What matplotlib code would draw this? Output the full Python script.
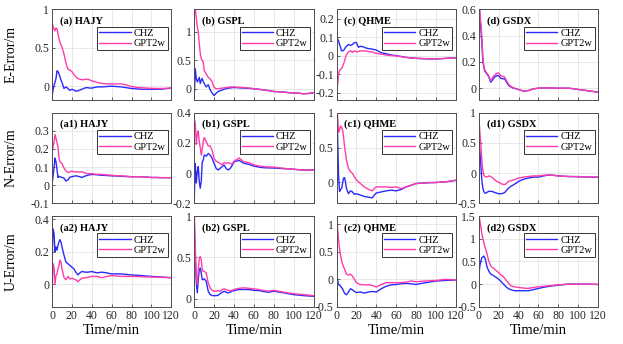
import numpy as np
import matplotlib
matplotlib.use('Agg')
import matplotlib.pyplot as plt

plt.rcParams['font.family'] = ['Liberation Serif', 'DejaVu Serif']
plt.rcParams['mathtext.fontset'] = 'stix'

# time axis (min)
t_min = [0, 1, 2, 3, 4, 5, 6, 7, 8, 9, 10, 12, 14, 16, 18, 20, 22, 24, 26, 28,
         30, 32, 34, 36, 38, 40, 45, 50, 55, 60, 65, 70, 75, 80, 85, 90, 95,
         100, 105, 110, 115, 120]

stations = ['HAJY', 'GSPL', 'QHME', 'GSDX']
components = ['E', 'N', 'U']
panel_tags = [['(a)', '(b)', '(c)', '(d)'],
              ['(a1)', '(b1)', '(c1)', '(d1)'],
              ['(a2)', '(b2)', '(c2)', '(d2)']]

# ---- E component ----
e_hajy_chz = [-0.14, -0.05, 0.01, 0.05, 0.1, 0.2, 0.19, 0.16, 0.12, 0.08, 0.05, -0.03, -0.01, -0.03,
              -0.055, -0.04, -0.05, -0.065, -0.06, -0.05, -0.04, -0.03, -0.02, -0.02, -0.025, -0.025,
              -0.01, -0.01, -0.005, 0.0, -0.005, -0.01, -0.02, -0.03, -0.035, -0.04, -0.04, -0.04,
              -0.04, -0.038, -0.032, -0.025]
e_hajy_gpt = [0.83, 0.78, 0.74, 0.72, 0.76, 0.74, 0.68, 0.62, 0.57, 0.54, 0.51, 0.42, 0.3, 0.22, 0.21,
              0.19, 0.15, 0.12, 0.1, 0.09, 0.084, 0.085, 0.09, 0.09, 0.08, 0.07, 0.05, 0.035, 0.03,
              0.03, 0.03, 0.03, 0.015, -0.005, -0.015, -0.02, -0.025, -0.028, -0.03, -0.03, -0.028,
              -0.025]
e_gspl_chz = [-0.12, 0.35, 0.18, 0.12, 0.15, 0.2, 0.09, 0.15, 0.18, 0.12, 0.09, 0.03, 0.07, -0.02,
              -0.08, -0.12, -0.08, -0.05, -0.035, -0.025, -0.01, 0.0, 0.01, 0.012, 0.018, 0.02, 0.015,
              0.01, 0.005, -0.002, -0.012, -0.022, -0.035, -0.05, -0.055, -0.06, -0.07, -0.075, -0.08,
              -0.09, -0.085, -0.072]
e_gspl_gpt = [1.5, 1.4, 1.25, 1.1, 1.0, 0.8, 0.62, 0.53, 0.5, 0.47, 0.32, 0.26, 0.2, 0.17, 0.12,
              0.02, 0.0, 0.0, 0.005, 0.01, 0.015, 0.02, 0.025, 0.03, 0.03, 0.03, 0.025, 0.02, 0.01,
              0.0, -0.01, -0.02, -0.035, -0.05, -0.055, -0.06, -0.07, -0.075, -0.08, -0.09, -0.085,
              -0.07]
e_qhme_chz = [0.1, 0.09, 0.08, 0.06, 0.045, 0.026, 0.025, 0.028, 0.035, 0.045, 0.05, 0.06, 0.055,
              0.06, 0.07, 0.07, 0.045, 0.05, 0.048, 0.045, 0.04, 0.038, 0.036, 0.035, 0.032, 0.03,
              0.015, 0.01, 0.003, 0.0, -0.005, -0.01, -0.012, -0.015, -0.016, -0.017, -0.018, -0.018,
              -0.017, -0.015, -0.013, -0.012]
e_qhme_gpt = [-0.21, -0.16, -0.1, -0.08, -0.075, -0.07, -0.06, -0.045, -0.03, -0.01, 0.005, 0.02,
              0.026, 0.017, 0.026, 0.02, 0.022, 0.026, 0.025, 0.025, 0.025, 0.022, 0.02, 0.02, 0.015,
              0.012, 0.008, 0.003, 0.0, -0.002, -0.006, -0.01, -0.013, -0.015, -0.016, -0.017,
              -0.018, -0.018, -0.017, -0.015, -0.013, -0.012]
e_gsdx_chz = [0.75, 0.53, 0.46, 0.35, 0.21, 0.16, 0.13, 0.12, 0.11, 0.1, 0.085, 0.045, 0.065, 0.085,
              0.095, 0.095, 0.075, 0.072, 0.07, 0.045, 0.02, 0.01, 0.003, -0.002, -0.006, -0.01,
              -0.023, -0.018, -0.005, 0.0, 0.002, 0.002, 0.001, 0.0, 0.0, 0.0, -0.004, -0.01, -0.014,
              -0.02, -0.025, -0.03]
e_gsdx_gpt = [0.8, 0.58, 0.5, 0.4, 0.24, 0.17, 0.14, 0.125, 0.115, 0.105, 0.09, 0.055, 0.083, 0.1,
              0.112, 0.116, 0.095, 0.09, 0.085, 0.055, 0.028, 0.015, 0.006, 0.0, -0.005, -0.01,
              -0.022, -0.018, -0.005, 0.0, 0.002, 0.002, 0.001, 0.0, 0.0, 0.0, -0.004, -0.01, -0.014,
              -0.02, -0.025, -0.03]

# ---- N component ----
n_hajy_chz = [0.0, 0.05, 0.095, 0.15, 0.13, 0.087, 0.043, 0.05, 0.047, 0.045, 0.043, 0.04, 0.023,
              0.03, 0.045, 0.047, 0.05, 0.052, 0.05, 0.047, 0.043, 0.048, 0.052, 0.055, 0.058, 0.06,
              0.058, 0.055, 0.054, 0.052, 0.051, 0.05, 0.048, 0.047, 0.047, 0.047, 0.045, 0.043,
              0.043, 0.042, 0.042, 0.042]
n_hajy_gpt = [0.18, 0.21, 0.235, 0.28, 0.26, 0.235, 0.21, 0.15, 0.13, 0.125, 0.12, 0.095, 0.08, 0.07,
              0.075, 0.078, 0.075, 0.073, 0.074, 0.072, 0.075, 0.07, 0.066, 0.064, 0.064, 0.064,
              0.06, 0.06, 0.057, 0.055, 0.053, 0.052, 0.05, 0.047, 0.047, 0.047, 0.045, 0.043, 0.043,
              0.042, 0.042, 0.042]
n_gspl_chz = [-0.17, 0.065, -0.065, 0.01, 0.043, -0.055, -0.1, -0.055, 0.075, 0.085, 0.12, 0.113,
              0.13, 0.12, 0.097, 0.065, 0.032, 0.021, 0.032, 0.043, 0.054, 0.032, 0.021, 0.03, 0.05,
              0.075, 0.085, 0.065, 0.058, 0.047, 0.04, 0.036, 0.035, 0.034, 0.032, 0.03, 0.028,
              0.026, 0.023, 0.021, 0.021, 0.021]
n_gspl_gpt = [0.36, 0.33, 0.19, 0.26, 0.28, 0.21, 0.17, 0.12, 0.16, 0.21, 0.235, 0.21, 0.18, 0.18,
              0.15, 0.095, 0.08, 0.072, 0.065, 0.055, 0.07, 0.065, 0.07, 0.065, 0.06, 0.08, 0.1,
              0.075, 0.07, 0.055, 0.048, 0.043, 0.041, 0.04, 0.036, 0.032, 0.029, 0.026, 0.023,
              0.021, 0.021, 0.021]
n_qhme_chz = [0.9, 0.7, 0.1, -0.13, -0.1, -0.087, -0.015, 0.06, 0.07, 0.01, -0.087, -0.16, -0.12,
              -0.135, -0.17, -0.16, -0.17, -0.18, -0.19, -0.2, -0.205, -0.21, -0.215, -0.22, -0.18,
              -0.15, -0.135, -0.12, -0.11, -0.12, -0.1, -0.063, -0.04, -0.015, -0.01, -0.005, -0.002,
              0.0, 0.005, 0.01, 0.02, 0.03]
n_qhme_gpt = [1.1, 0.95, 0.72, 0.75, 0.81, 0.79, 0.76, 0.66, 0.52, 0.42, 0.32, 0.2, 0.155, 0.13,
              0.08, 0.034, 0.01, -0.015, -0.04, -0.063, -0.08, -0.097, -0.11, -0.12, -0.087, -0.063,
              -0.063, -0.063, -0.07, -0.063, -0.087, -0.063, -0.04, -0.015, -0.01, -0.005, -0.002,
              0.0, 0.005, 0.01, 0.02, 0.034]
n_gsdx_chz = [0.52, 0.38, 0.14, -0.11, -0.245, -0.3, -0.33, -0.33, -0.32, -0.31, -0.3, -0.3, -0.305,
              -0.32, -0.33, -0.34, -0.34, -0.335, -0.32, -0.28, -0.245, -0.22, -0.2, -0.18, -0.16,
              -0.135, -0.1, -0.08, -0.065, -0.065, -0.045, -0.03, -0.035, -0.045, -0.05, -0.055,
              -0.057, -0.06, -0.062, -0.065, -0.065, -0.065]
n_gsdx_gpt = [0.93, 0.69, 0.48, 0.22, 0.05, -0.03, -0.055, -0.06, -0.065, -0.055, -0.045, -0.055,
              -0.08, -0.11, -0.135, -0.15, -0.17, -0.185, -0.19, -0.165, -0.135, -0.125, -0.115,
              -0.105, -0.095, -0.08, -0.065, -0.055, -0.045, -0.045, -0.035, -0.03, -0.035, -0.045,
              -0.05, -0.055, -0.055, -0.055, -0.06, -0.065, -0.065, -0.065]

# ---- U component ----
u_hajy_chz = [0.115, 0.34, 0.315, 0.2, 0.23, 0.21, 0.24, 0.26, 0.275, 0.26, 0.23, 0.18, 0.137, 0.126,
              0.116, 0.105, 0.095, 0.074, 0.057, 0.07, 0.078, 0.076, 0.074, 0.074, 0.076, 0.078,
              0.07, 0.074, 0.07, 0.063, 0.064, 0.063, 0.06, 0.057, 0.055, 0.053, 0.05, 0.048, 0.046,
              0.044, 0.042, 0.04]
u_hajy_gpt = [-0.085, 0.126, 0.105, 0.0, 0.053, 0.063, 0.095, 0.116, 0.147, 0.137, 0.095, 0.042,
              0.027, 0.048, 0.032, 0.036, 0.032, 0.027, 0.015, 0.027, 0.036, 0.038, 0.04, 0.042,
              0.045, 0.048, 0.048, 0.04, 0.048, 0.053, 0.05, 0.048, 0.048, 0.048, 0.047, 0.046,
              0.045, 0.044, 0.043, 0.042, 0.041, 0.04]
u_gspl_chz = [0.9, 0.5, 0.2, 0.07, 0.23, 0.35, 0.37, 0.31, 0.23, 0.23, 0.24, 0.21, 0.09, 0.048,
              0.036, 0.036, 0.036, 0.04, 0.06, 0.077, 0.09, 0.077, 0.07, 0.077, 0.09, 0.097, 0.11,
              0.11, 0.11, 0.1, 0.097, 0.085, 0.077, 0.09, 0.08, 0.07, 0.058, 0.048, 0.042, 0.036,
              0.032, 0.028]
u_gspl_gpt = [1.05, 0.63, 0.27, 0.17, 0.35, 0.49, 0.51, 0.47, 0.35, 0.33, 0.33, 0.31, 0.19, 0.13,
              0.1, 0.09, 0.09, 0.097, 0.09, 0.11, 0.117, 0.11, 0.1, 0.095, 0.1, 0.11, 0.125, 0.13,
              0.125, 0.117, 0.11, 0.097, 0.09, 0.1, 0.09, 0.077, 0.068, 0.06, 0.054, 0.048, 0.042,
              0.036]
u_qhme_chz = [0.08, 0.0, -0.1, -0.1, -0.125, -0.15, -0.17, -0.21, -0.25, -0.27, -0.28, -0.23, -0.17,
              -0.19, -0.22, -0.24, -0.235, -0.23, -0.24, -0.25, -0.24, -0.23, -0.225, -0.22, -0.225,
              -0.23, -0.17, -0.125, -0.1, -0.094, -0.08, -0.075, -0.08, -0.094, -0.075, -0.06,
              -0.045, -0.03, -0.025, -0.02, -0.015, -0.013]
u_qhme_gpt = [1.1, 0.94, 0.72, 0.56, 0.44, 0.34, 0.28, 0.23, 0.19, 0.14, 0.094, 0.08, 0.094, 0.06,
              0.0, -0.06, -0.08, -0.094, -0.1, -0.1, -0.1, -0.1, -0.105, -0.11, -0.125, -0.14,
              -0.094, -0.06, -0.06, -0.06, -0.06, -0.05, -0.03, -0.044, -0.035, -0.03, -0.025,
              -0.02, -0.01, 0.0, -0.005, -0.013]
u_gsdx_chz = [0.18, 0.4, 0.51, 0.58, 0.6, 0.62, 0.58, 0.51, 0.4, 0.34, 0.29, 0.22, 0.2, 0.17, 0.14,
              0.11, 0.065, 0.02, -0.025, -0.072, -0.1, -0.12, -0.135, -0.145, -0.145, -0.145,
              -0.145, -0.145, -0.12, -0.094, -0.07, -0.05, -0.035, -0.022, -0.01, 0.0, 0.0, 0.0,
              0.0, 0.0, -0.003, -0.007]
u_gsdx_gpt = [1.6, 1.4, 1.27, 1.12, 1.01, 0.92, 0.83, 0.76, 0.69, 0.6, 0.51, 0.4, 0.36, 0.33, 0.29,
              0.25, 0.21, 0.18, 0.13, 0.07, 0.02, -0.036, -0.048, -0.058, -0.065, -0.072, -0.087,
              -0.094, -0.072, -0.058, -0.047, -0.036, -0.025, -0.014, -0.007, 0.0, 0.0, 0.0, 0.0,
              0.0, -0.003, -0.007]

chz = [[e_hajy_chz, e_gspl_chz, e_qhme_chz, e_gsdx_chz],
       [n_hajy_chz, n_gspl_chz, n_qhme_chz, n_gsdx_chz],
       [u_hajy_chz, u_gspl_chz, u_qhme_chz, u_gsdx_chz]]
gpt = [[e_hajy_gpt, e_gspl_gpt, e_qhme_gpt, e_gsdx_gpt],
       [n_hajy_gpt, n_gspl_gpt, n_qhme_gpt, n_gsdx_gpt],
       [u_hajy_gpt, u_gspl_gpt, u_qhme_gpt, u_gsdx_gpt]]

ylims = [[(-0.18, 1.0), (-0.2, 1.4), (-0.24, 0.25), (-0.09, 0.6)],
         [(-0.1, 0.4), (-0.2, 0.4), (-0.3, 1.0), (-0.5, 1.0)],
         [(-0.14, 0.42), (-0.1, 1.0), (-0.5, 1.15), (-0.5, 1.5)]]
yticks = [[[0, 0.5, 1], [0, 0.5, 1], [-0.2, -0.1, 0, 0.1, 0.2], [0, 0.2, 0.4, 0.6]],
          [[-0.1, 0, 0.1, 0.2, 0.3], [-0.2, 0, 0.2, 0.4], [0, 0.5, 1], [-0.5, 0, 0.5, 1]],
          [[0, 0.2, 0.4], [0, 0.5, 1], [-0.5, 0, 0.5, 1], [-0.5, 0, 0.5, 1, 1.5]]]

blue = '#2a2aff'
pink = '#ff3caa'

fig, axes = plt.subplots(3, 4, figsize=(6.23, 3.44), dpi=100)
fig.subplots_adjust(left=0.0835, right=0.96, top=0.973, bottom=0.108, wspace=0.193, hspace=0.14)

for r in range(3):
    for c in range(4):
        ax = axes[r, c]
        ax.plot(t_min, chz[r][c], color=blue, lw=1.0, label='CHZ')
        ax.plot(t_min, gpt[r][c], color=pink, lw=1.0, label='GPT2w')
        ax.set_xlim(0, 120)
        ax.set_ylim(*ylims[r][c])
        ax.set_xticks(range(0, 121, 20))
        ax.set_yticks(yticks[r][c])
        ax.set_yticklabels(['%g' % v for v in yticks[r][c]], fontsize=8.5)
        ax.grid(True, color='#e3e3e3', lw=0.6)
        ax.set_axisbelow(True)
        ax.tick_params(direction='in', length=2, width=0.5, colors='#262626', pad=2)
        for s in ax.spines.values():
            s.set_color('#4d4d4d')
            s.set_linewidth(0.7)
        if r == 2:
            ax.set_xticklabels([str(v) for v in range(0, 121, 20)], fontsize=8.5)
            ax.set_xlabel('Time/min', fontsize=10.5, labelpad=2)
        else:
            ax.set_xticklabels([])
        if c == 0:
            ax.set_ylabel(components[r] + '-Error/m', fontsize=10)
            ax.yaxis.set_label_coords(-0.29, 0.5)
        ax.text(0.065, 0.87, panel_tags[r][c] + ' ' + stations[c], transform=ax.transAxes,
                fontsize=7.5, fontweight='bold', va='center', ha='left')
        leg = ax.legend(loc='upper right', bbox_to_anchor=(0.97, 0.81), fontsize=7.5,
                        fancybox=False, framealpha=1, edgecolor='#333333',
                        handlelength=3.0, borderpad=0.2, labelspacing=0.1,
                        handletextpad=0.3, borderaxespad=0)
        leg.get_frame().set_linewidth(0.7)

fig.savefig('out.png', dpi=100)
